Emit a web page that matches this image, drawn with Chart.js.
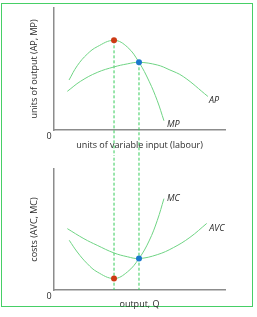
<!DOCTYPE html>
<html>
<head>
<meta charset="utf-8">
<script src="https://cdn.jsdelivr.net/npm/chart.js@4.4.0/dist/chart.umd.min.js"></script>
<style>
  html, body { margin: 0; padding: 0; background: #fff; }
  #wrap { position: relative; width: 257px; height: 317px; overflow: hidden; }
  #frame { position: absolute; left: 1px; top: 3px; width: 250px; height: 302px; border: 1px solid #46cf66; }
  canvas { position: absolute; left: 0; }
  #top-chart { top: 0; }
  #bottom-chart { top: 155px; }
</style>
</head>
<body>
<div id="wrap">
  <div id="frame"></div>
  <canvas id="top-chart" width="257" height="155"></canvas>
  <canvas id="bottom-chart" width="257" height="162"></canvas>
</div>
<script>
// product curves (top panel)
const mpX = [0.88, 1.36, 1.95, 2.53, 3.51, 4.29, 4.97, 5.56, 6.04, 6.43];
const mpY = [4.1, 5.27, 6.23, 6.83, 7.35, 6.8, 5.55, 4.0, 2.4, 0.76];
const apX = [0.78, 1.56, 2.53, 3.51, 4.29, 4.97, 6.04, 6.73, 7.56, 9.0];
const apY = [3.17, 4.0, 4.72, 5.17, 5.42, 5.55, 5.33, 4.95, 4.38, 2.75];

// cost curves (bottom panel)
const mcX = [0.89, 1.36, 1.95, 2.53, 3.51, 4.29, 4.97, 5.56, 6.04, 6.43];
const mcY = [4.11, 3.14, 2.17, 1.49, 0.95, 1.49, 2.6, 4.05, 5.75, 7.55];
const avcX = [0.78, 1.75, 2.53, 3.51, 4.29, 4.97, 6.04, 6.98, 7.95, 8.93];
const avcY = [5.07, 4.24, 3.69, 3.06, 2.75, 2.6, 2.92, 3.5, 4.35, 5.5];

// marked points: red = MP max / MC min, blue = AP max / AVC min
const dropX = [3.51, 4.97];
const topDotY = [7.35, 5.55];
const bottomDotY = [0.95, 2.6];

const curveColor = '#6fd484';
const dashColor = '#35cc5a';
const dotColors = ['#cc3a14', '#1b78cc'];
const axisColor = '#8c8c8c';
const textColor = '#2b2b2b';

Chart.defaults.font.family = "'Open Sans', sans-serif";
Chart.defaults.font.size = 9;
Chart.defaults.color = textColor;

function toPoints(xs, ys) {
    return xs.map((x, i) => ({ x: x, y: ys[i] }));
}

// text at the end of curves and the "0" at the origin
const curveLabels = {
    id: 'curveLabels',
    afterDatasetsDraw(chart) {
        const ctx = chart.ctx;
        ctx.save();
        ctx.fillStyle = textColor;
        ctx.textBaseline = 'middle';
        ctx.textAlign = 'left';
        ctx.font = "italic 9px 'Open Sans', sans-serif";
        chart.data.datasets.forEach((ds, i) => {
            if (!ds.endLabel) return;
            const meta = chart.getDatasetMeta(i);
            const last = meta.data[meta.data.length - 1];
            ctx.fillText(ds.endLabel, last.x + ds.labelDx, last.y + ds.labelDy);
        });
        ctx.font = "9px 'Open Sans', sans-serif";
        ctx.textAlign = 'center';
        ctx.fillText('0', chart.scales.x.getPixelForValue(0) - 5, chart.scales.y.getPixelForValue(0) + 6);
        ctx.restore();
    }
};

function makeChart(id, curves, dotY, dashFrom, dashTo, xTitle, yTitle, pad, xHeight, xTitlePad) {
    const datasets = [];
    dropX.forEach((x, i) => {
        datasets.push({
            data: [{ x: x, y: dotY[i] }],
            pointRadius: 3,
            pointBackgroundColor: dotColors[i],
            pointBorderWidth: 0,
            showLine: false
        });
    });
    curves.forEach(c => {
        datasets.push({
            data: toPoints(c.xs, c.ys),
            showLine: true,
            borderColor: curveColor,
            borderWidth: 1,
            pointRadius: 0,
            tension: 0.4,
            endLabel: c.label,
            labelDx: c.dx,
            labelDy: c.dy
        });
    });
    dropX.forEach((x, i) => {
        datasets.push({
            data: [{ x: x, y: dashFrom[i] }, { x: x, y: dashTo }],
            showLine: true,
            borderColor: dashColor,
            borderWidth: 1,
            borderDash: [3, 2],
            pointRadius: 0,
            clip: false
        });
    });

    return new Chart(document.getElementById(id), {
        type: 'scatter',
        data: { datasets: datasets },
        options: {
            responsive: false,
            animation: false,
            events: [],
            layout: { padding: pad },
            plugins: { legend: { display: false }, tooltip: { enabled: false } },
            scales: {
                x: {
                    type: 'linear', min: 0, max: 10,
                    grid: { display: false, drawTicks: false },
                    border: { display: true, color: axisColor, width: 1.5 },
                    ticks: { display: false },
                    title: { display: true, text: xTitle, padding: { top: 0, bottom: xTitlePad } },
                    afterFit(scale) { scale.height = xHeight; }
                },
                y: {
                    type: 'linear', min: 0, max: 10,
                    grid: { display: false, drawTicks: false },
                    border: { display: true, color: axisColor, width: 1.5 },
                    ticks: { display: false },
                    title: { display: true, text: yTitle, padding: { top: 28.6, bottom: 0 } },
                    afterFit(scale) { scale.width = 54; }
                }
            }
        },
        plugins: [curveLabels]
    });
}

makeChart('top-chart',
    [
        { xs: mpX, ys: mpY, label: 'MP', dx: 3, dy: 4 },
        { xs: apX, ys: apY, label: 'AP', dx: 1, dy: 3.5 }
    ],
    topDotY, topDotY, -3,
    'units of variable input (labour)', 'units of output (AP, MP)',
    { left: 0, right: 32, top: 8, bottom: 0 }, 25, 4.6);

makeChart('bottom-chart',
    [
        { xs: mcX, ys: mcY, label: 'MC', dx: 3, dy: 0 },
        { xs: avcX, ys: avcY, label: 'AVC', dx: 2.5, dy: 4.5 }
    ],
    bottomDotY, [13, 13], 0,
    'output, Q', 'costs (AVC, MC)',
    { left: 0, right: 32, top: 14, bottom: 0 }, 27, 7.6);
</script>
</body>
</html>
